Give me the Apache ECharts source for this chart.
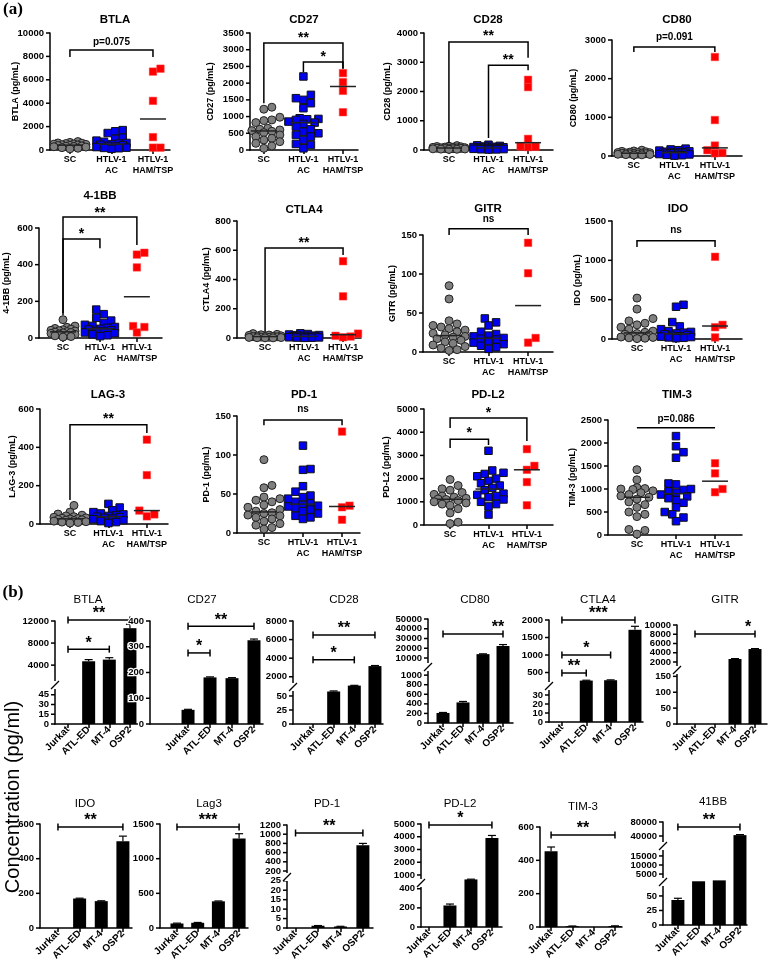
<!DOCTYPE html>
<html><head><meta charset="utf-8">
<script src="https://cdn.jsdelivr.net/npm/echarts@6/dist/echarts.min.js"></script>
<style>html,body{margin:0;padding:0;background:#fff}#c{width:770px;height:972px}</style>
</head><body><div id="c"></div>
<script>
// ---------- Part (a) data ----------
const GROUPS_A = ['SC', 'HTLV-1\nAC', 'HTLV-1\nHAM/TSP'];

const BTLA_SC = [720, 650, 600, 580, 550, 520, 500, 480, 450, 430, 400, 380, 350, 320, 300, 280, 250, 200, 150, 100];
const BTLA_AC = [1700, 1600, 1450, 1050, 950, 800, 700, 600, 550, 500, 450, 400, 350, 300, 250, 200, 180, 150, 100];
const BTLA_HAM = [6950, 6700, 4200, 1100, 200, 200];

const CD27_SC = [1280, 1220, 1000, 980, 900, 880, 820, 650, 620, 600, 580, 560, 520, 450, 400, 380, 350, 300, 250, 200, 120, 50];
const CD27_AC = [2200, 1650, 1550, 1500, 1400, 1250, 950, 930, 920, 900, 850, 820, 780, 700, 620, 550, 500, 450, 400, 300, 180, 150, 50];
const CD27_HAM = [2300, 2030, 1770, 1130];

const CD28_SC = [150, 130, 120, 110, 100, 95, 90, 80, 75, 70, 65, 60, 55, 50, 45, 40, 35, 30, 25, 20];
const CD28_AC = [180, 160, 140, 120, 110, 100, 95, 90, 80, 70, 65, 60, 50, 45, 40, 30, 25, 20, 15];
const CD28_HAM = [2400, 2150, 380, 120, 100, 110];

const CD80_SC = [150, 130, 120, 110, 100, 95, 90, 85, 80, 75, 70, 65, 60, 55, 50, 45, 40, 35, 30, 25];
const CD80_AC = [190, 170, 150, 140, 120, 110, 100, 90, 85, 80, 70, 60, 50, 40, 30, 20, 10];
const CD80_HAM = [2560, 930, 270, 150, 70, 80];

const B41_SC = [100, 65, 58, 52, 48, 45, 42, 40, 38, 35, 32, 30, 28, 25, 22, 20, 15, 12, 8, 5];
const B41_AC = [155, 130, 110, 95, 82, 72, 66, 60, 55, 50, 46, 42, 38, 35, 30, 26, 20, 15, 10];
const B41_HAM = [465, 455, 385, 65, 60, 30];

const CTLA4_SC = [30, 25, 22, 20, 18, 15, 14, 12, 10, 9, 8, 6, 5, 4, 3, 2, 1, 1];
const CTLA4_AC = [32, 27, 24, 20, 18, 16, 14, 12, 10, 8, 6, 5, 4, 3, 2, 1];
const CTLA4_HAM = [525, 285, 30, 15, 10, 5];

const GITR_SC = [85, 68, 40, 36, 34, 32, 30, 28, 26, 24, 22, 20, 19, 17, 15, 13, 11, 9, 7, 5, 3, 2];
const GITR_AC = [43, 38, 34, 26, 23, 21, 20, 18, 17, 16, 14, 12, 10, 8, 6, 4];
const GITR_HAM = [140, 101, 18, 12];

const IDO_SC = [520, 380, 260, 230, 200, 180, 150, 125, 100, 85, 70, 60, 50, 40, 30, 25, 20, 15, 10, 5];
const IDO_AC = [435, 410, 215, 160, 125, 100, 90, 80, 70, 60, 50, 40, 35, 30, 25, 20, 15, 10];
const IDO_HAM = [1045, 180, 150, 20];

const LAG3_SC = [97, 62, 52, 46, 42, 38, 35, 32, 30, 28, 26, 24, 22, 20, 18, 15, 12, 10, 8, 5];
const LAG3_AC = [105, 86, 72, 62, 55, 50, 45, 42, 38, 35, 32, 28, 25, 20, 15, 10, 5];
const LAG3_HAM = [440, 255, 70, 50, 40];

const PD1_SC = [94, 61, 58, 46, 44, 42, 40, 36, 33, 30, 28, 26, 25, 23, 22, 20, 18, 15, 12, 10, 7, 5];
const PD1_AC = [112, 82, 81, 60, 53, 48, 46, 44, 40, 38, 36, 35, 34, 32, 30, 28, 25, 22, 20, 18];
const PD1_HAM = [130, 35, 33, 17];

const PDL2_SC = [1960, 1700, 1560, 1500, 1400, 1320, 1250, 1200, 1150, 1120, 1100, 1050, 1000, 950, 900, 850, 700, 520, 120, 60];
const PDL2_AC = [3200, 2350, 2250, 2200, 2100, 2000, 1900, 1800, 1700, 1600, 1500, 1350, 1300, 1250, 1200, 1100, 1000, 900, 800, 450];
const PDL2_HAM = [3270, 2550, 2380, 1850, 850];

const TIM3_SC = [1420, 1200, 1030, 1010, 1000, 990, 960, 920, 880, 850, 820, 780, 720, 660, 600, 500, 450, 400, 120, 100, 20];
const TIM3_AC = [2150, 1930, 1800, 1680, 1120, 1100, 1000, 980, 950, 920, 880, 840, 800, 760, 700, 600, 500, 450, 380, 300];
const TIM3_HAM = [1560, 1340, 1000, 930];

// brackets (a): [from, to, yTop, yLeftLeg, yRightLeg, label, labelOffsetPx]
const BTLA_BR = [[0, 2, 8550, 7950, 7950, 'p=0.075', 8]];
const CD27_BR = [[0, 2, 3200, 1400, 2420, '**', 8], [1, 2, 2630, 2330, 2450, '*', 8]];
const CD28_BR = [[0, 2, 3690, 240, 3150, '**', 9], [1, 2, 2900, 410, 2730, '**', 8]];
const CD80_BR = [[0, 2, 2820, 2690, 2690, 'p=0.091', 10]];
const B41_BR = [[0, 2, 660, 136, 507, '**', 7], [0, 1, 540, 125, 490, '*', 8]];
const CTLA4_BR = [[0, 2, 615, 40, 568, '**', 8]];
const GITR_BR = [[0, 2, 158, 150, 150, 'ns', 10]];
const IDO_BR = [[0, 2, 1250, 1170, 1170, 'ns', 10]];
const LAG3_BR = [[0, 2, 518, 125, 475, '**', 9]];
const PD1_BR = [[0, 2, 145, 138, 138, 'ns', 11]];
const PDL2_BR = [[0, 2, 4610, 4180, 3620, '*', 8], [0, 1, 3700, 3320, 3450, '*', 9]];
const TIM3_BR = [[0, 2, 2330, 2330, 2330, 'p=0.086', 9]];

// ---------- Part (b) data ----------
const CELL_LINES = ['Jurkat', 'ATL-ED', 'MT-4', 'OSP2'];
const BB_BTLA = [0, 4700, 5000, 10700];    const BB_BTLA_ERR = [0, 300, 350, 700];
const BB_CD27 = [55, 181, 178, 325];       const BB_CD27_ERR = [2, 2, 2, 5];
const BB_CD28 = [0, 58, 1050, 3150];       const BB_CD28_ERR = [0, 1, 30, 60];
const BB_CD80 = [210, 430, 14000, 22300];  const BB_CD80_ERR = [10, 20, 300, 1500];
const BB_CTLA4 = [0, 270, 280, 1720];      const BB_CTLA4_ERR = [0, 10, 10, 100];
const BB_GITR = [0, 0, 2650, 4800];        const BB_GITR_ERR = [0, 0, 80, 100];
const BB_IDO = [0, 170, 155, 500];         const BB_IDO_ERR = [0, 2, 2, 30];
const BB_LAG3 = [65, 75, 385, 1290];       const BB_LAG3_ERR = [5, 5, 5, 70];
const BB_PD1 = [0, 1.2, 0.8, 760];         const BB_PD1_ERR = [0, 0.1, 0.1, 40];
const BB_PDL2 = [0, 225, 650, 3900];       const BB_PDL2_ERR = [0, 15, 20, 200];
const BB_TIM3 = [455, 5, 0, 6];            const BB_TIM3_ERR = [25, 1, 0, 1];
const BB_41BB = [43, 1000, 1500, 42500];   const BB_41BB_ERR = [3, 0, 0, 1500];

// brackets (b): [from, to, y, label, labelX]
const BB_BTLA_BR = [[0, 3, 12180, '**', 1.5], [0, 2, 6900, '*', 1]];
const BB_CD27_BR = [[0, 3, 380, '**', 1.5], [0, 1, 276, '*', 0.5]];
const BB_CD28_BR = [[0, 3, 6500, '**', 1.5], [0, 2, 3820, '*', 1]];
const BB_CD80_BR = [[0, 3, 34600, '**', 2.75]];
const BB_CTLA4_BR = [[0, 3, 2000, '***', 1.5], [0, 2, 1000, '*', 1], [0, 1, 486, '**', 0.5]];
const BB_GITR_BR = [[0, 3, 8050, '*', 2.65]];
const BB_IDO_BR = [[0, 3, 583, '**', 1.5]];
const BB_LAG3_BR = [[0, 3, 1457, '***', 1.5]];
const BB_PD1_BR = [[0, 3, 1026, '**', 1.5]];
const BB_PDL2_BR = [[0, 3, 4920, '*', 1.5]];
const BB_TIM3_BR = [[0, 3, 552, '**', 1.5]];
const BB_41BB_BR = [[0, 3, 65700, '**', 1.5]];

// ---------- layout ----------
const FA = "'Liberation Sans', Arial, Helvetica, sans-serif";
const FS = "'Liberation Serif', 'Times New Roman', serif";
const LS = {color: '#000', width: 1.5};

const PANELS_A = [
  {t: 'BTLA', tx: 115, ty: 20, x0: 50, x1: 170, top: 33, bot: 150, xmin: -0.48, xmax: 2.41, max: 10000, step: 2000, gap: 30, sc: BTLA_SC, ac: BTLA_AC, ham: BTLA_HAM, br: BTLA_BR},
  {t: 'CD27', tx: 304, ty: 20, x0: 250, x1: 358, top: 33, bot: 150, xmin: -0.35, xmax: 2.38, max: 3500, step: 500, gap: 35, sc: CD27_SC, ac: CD27_AC, ham: CD27_HAM, br: CD27_BR},
  {t: 'CD28', tx: 488, ty: 20, x0: 424, x1: 553, top: 33, bot: 150, xmin: -0.63, xmax: 2.63, max: 4000, step: 1000, gap: 32, sc: CD28_SC, ac: CD28_AC, ham: CD28_HAM, br: CD28_BR},
  {t: 'CD80', tx: 677, ty: 20, x0: 612, x1: 742, top: 40, bot: 156, xmin: -0.54, xmax: 2.67, max: 3000, step: 1000, gap: 34, sc: CD80_SC, ac: CD80_AC, ham: CD80_HAM, br: CD80_BR},
  {t: '4-1BB', tx: 100, ty: 196, x0: 39, x1: 162, top: 228, bot: 338, xmin: -0.65, xmax: 2.68, max: 600, step: 200, gap: 28, sc: B41_SC, ac: B41_AC, ham: B41_HAM, br: B41_BR},
  {t: 'CTLA4', tx: 304, ty: 210, x0: 237, x1: 361, top: 221, bot: 338, xmin: -0.72, xmax: 2.46, max: 800, step: 200, gap: 26, sc: CTLA4_SC, ac: CTLA4_AC, ham: CTLA4_HAM, br: CTLA4_BR},
  {t: 'GITR', tx: 488, ty: 209, x0: 423, x1: 553, top: 235, bot: 352, xmin: -0.66, xmax: 2.63, max: 150, step: 50, gap: 26, sc: GITR_SC, ac: GITR_AC, ham: GITR_HAM, br: GITR_BR},
  {t: 'IDO', tx: 678, ty: 209, x0: 612, x1: 742, top: 221, bot: 339, xmin: -0.64, xmax: 2.69, max: 1500, step: 500, gap: 30, sc: IDO_SC, ac: IDO_AC, ham: IDO_HAM, br: IDO_BR},
  {t: 'LAG-3', tx: 108, ty: 395, x0: 40, x1: 168, top: 409, bot: 524, xmin: -0.78, xmax: 2.55, max: 600, step: 200, gap: 23, sc: LAG3_SC, ac: LAG3_AC, ham: LAG3_HAM, br: LAG3_BR},
  {t: 'PD-1', tx: 304, ty: 395, x0: 237, x1: 360, top: 416, bot: 533, xmin: -0.69, xmax: 2.46, max: 150, step: 50, gap: 26, sc: PD1_SC, ac: PD1_AC, ham: PD1_HAM, br: PD1_BR},
  {t: 'PD-L2', tx: 488, ty: 395, x0: 424, x1: 553, top: 409, bot: 525, xmin: -0.68, xmax: 2.68, max: 5000, step: 1000, gap: 33, sc: PDL2_SC, ac: PDL2_AC, ham: PDL2_HAM, br: PDL2_BR},
  {t: 'TIM-3', tx: 677, ty: 395, x0: 608, x1: 742, top: 420, bot: 535, xmin: -0.74, xmax: 2.69, max: 2500, step: 500, gap: 31, sc: TIM3_SC, ac: TIM3_AC, ham: TIM3_HAM, br: TIM3_BR}
];

const PANELS_B = [
  {t: 'BTLA', tx: 88, ty: 600, x0: 55, x1: 138, xmin: -0.63, xmax: 3.39, vals: BB_BTLA, errs: BB_BTLA_ERR, br: BB_BTLA_BR,
   segs: [{min: 400, max: 12000, ticks: [4000, 8000, 12000], top: 621, bot: 685}, {min: 0, max: 60, ticks: [0, 15, 30, 45], top: 685, bot: 724}]},
  {t: 'CD27', tx: 202, ty: 600, x0: 150, x1: 263, xmin: -1.73, xmax: 3.41, vals: BB_CD27, errs: BB_CD27_ERR, br: BB_CD27_BR,
   segs: [{min: 0, max: 400, ticks: [0, 100, 200, 300, 400], top: 621, bot: 724}]},
  {t: 'CD28', tx: 344, ty: 600, x0: 293, x1: 383, xmin: -0.97, xmax: 3.39, vals: BB_CD28, errs: BB_CD28_ERR, br: BB_CD28_BR,
   segs: [{min: 900, max: 8000, ticks: [2000, 4000, 6000, 8000], top: 621, bot: 687}, {min: 0, max: 66, ticks: [0, 25, 50], top: 687, bot: 724}]},
  {t: 'CD80', tx: 475, ty: 600, x0: 428, x1: 513, xmin: -0.75, xmax: 3.5, vals: BB_CD80, errs: BB_CD80_ERR, br: BB_CD80_BR,
   segs: [{min: 800, max: 50000, ticks: [10000, 20000, 30000, 40000, 50000], top: 619, bot: 667}, {min: 0, max: 1170, ticks: [0, 200, 400, 600, 800, 1000], top: 667, bot: 723}]},
  {t: 'CTLA4', tx: 598, ty: 600, x0: 549, x1: 643, xmin: -0.53, xmax: 3.33, vals: BB_CTLA4, errs: BB_CTLA4_ERR, br: BB_CTLA4_BR,
   segs: [{min: 115, max: 2000, ticks: [500, 1000, 1500, 2000], top: 620, bot: 686}, {min: 0, max: 40, ticks: [0, 10, 20, 30], top: 686, bot: 722}]},
  {t: 'GITR', tx: 725, ty: 600, x0: 677, x1: 767, xmin: -0.9, xmax: 3.6, vals: BB_GITR, errs: BB_GITR_ERR, br: BB_GITR_BR,
   segs: [{min: 270, max: 10000, ticks: [2000, 4000, 6000, 8000, 10000], top: 625, bot: 670}, {min: 0, max: 170, ticks: [0, 50, 100, 150], top: 670, bot: 724}]},
  {t: 'IDO', tx: 85, ty: 804, x0: 40, x1: 132, xmin: -0.83, xmax: 3.42, vals: BB_IDO, errs: BB_IDO_ERR, br: BB_IDO_BR,
   segs: [{min: 0, max: 600, ticks: [0, 200, 400, 600], top: 824, bot: 928}]},
  {t: 'Lag3', tx: 209, ty: 804, x0: 160, x1: 248, xmin: -0.82, xmax: 3.43, vals: BB_LAG3, errs: BB_LAG3_ERR, br: BB_LAG3_BR,
   segs: [{min: 0, max: 1500, ticks: [0, 500, 1000, 1500], top: 824, bot: 928}]},
  {t: 'PD-1', tx: 327, ty: 804, x0: 287, x1: 373, xmin: -0.38, xmax: 3.45, vals: BB_PD1, errs: BB_PD1_ERR, br: BB_PD1_BR,
   segs: [{min: 70, max: 1200, ticks: [200, 400, 600, 800, 1000, 1200], top: 825, bot: 877}, {min: 0, max: 27, ticks: [0, 5, 10, 15, 20, 25], top: 877, bot: 928}]},
  {t: 'PD-L2', tx: 460, ty: 804, x0: 421, x1: 502, xmin: -0.38, xmax: 3.48, vals: BB_PDL2, errs: BB_PDL2_ERR, br: BB_PDL2_BR,
   segs: [{min: 370, max: 5000, ticks: [1000, 2000, 3000, 4000, 5000], top: 824, bot: 883}, {min: 0, max: 460, ticks: [0, 200, 400], top: 883, bot: 927}]},
  {t: 'TIM-3', tx: 583, ty: 807, x0: 540, x1: 622, xmin: -0.52, xmax: 3.33, vals: BB_TIM3, errs: BB_TIM3_ERR, br: BB_TIM3_BR,
   segs: [{min: 0, max: 600, ticks: [0, 200, 400, 600], top: 827, bot: 927}]},
  {t: '41BB', tx: 713, ty: 802, x0: 663, x1: 747, xmin: -0.72, xmax: 3.34, vals: BB_41BB, errs: BB_41BB_ERR, br: BB_41BB_BR,
   segs: [{min: 11400, max: 80000, ticks: [40000, 80000], top: 822, bot: 846}, {min: 600, max: 20500, ticks: [5000, 10000, 15000], top: 846, bot: 882}, {min: 0, max: 74, ticks: [0, 25, 50], top: 882, bot: 925}]}
];

const grids = [], xAxes = [], yAxes = [], series = [], graphics = [];

function txt(x, y, text, opts) {
  const o = Object.assign({align: 'center', va: 'middle', rot: 0, weight: 'bold', size: 11, family: FA}, opts || {});
  graphics.push({type: 'text', x: x, y: y, rotation: o.rot, z: 50, silent: true,
    style: {text: text, fill: '#000', fontFamily: o.family, fontSize: o.size, fontWeight: o.weight,
      textAlign: o.align, align: o.align, textVerticalAlign: o.va, verticalAlign: o.va}});
}

function median(a) {
  const s = a.slice().sort((p, q) => p - q); const n = s.length;
  return n % 2 ? s[(n - 1) / 2] : (s[n / 2 - 1] + s[n / 2]) / 2;
}

// y-axis ticks + tick labels placed through the axis scale (api.coord)
function yTicks(gi, xmin, ticks, fontSize, halo) {
  series.push({type: 'custom', xAxisIndex: gi, yAxisIndex: gi, z: 20, silent: true, clip: false,
    data: ticks.map(t => [xmin, t]),
    renderItem: (params, api) => {
      const v = api.value(1); const c = api.coord([api.value(0), v]);
      const st = {text: String(v), fill: '#000', fontFamily: FA, fontWeight: 'bold', fontSize: fontSize,
        textAlign: 'right', align: 'right', textVerticalAlign: 'middle', verticalAlign: 'middle'};
      if (halo) { st.stroke = '#fff'; st.lineWidth = 2.5; }
      return {type: 'group', children: [
        {type: 'line', shape: {x1: c[0] - 4, y1: c[1], x2: c[0], y2: c[1]}, style: {stroke: '#000', lineWidth: 1.5}},
        {type: 'text', x: c[0] - 6, y: c[1], style: st}
      ]};
    }});
}

// deterministic beeswarm: spread points sideways so markers overlap as little as possible
function swarm(vals, pxPerUnit, bandPx, size) {
  const placed = []; const out = new Array(vals.length);
  const order = vals.map((v, i) => i).sort((a, b) => vals[a] - vals[b]);
  const step = size * 0.5; const maxK = Math.floor(bandPx * 0.42 / step) * 2;
  order.forEach(i => {
    const py = vals[i] * pxPerUnit; let best = 0, bestD = -1;
    for (let k = 0; k <= maxK; k++) {
      const off = (k % 2 ? 1 : -1) * Math.ceil(k / 2) * step;
      let dmin = Infinity;
      placed.forEach(q => { const d = Math.hypot(q[0] - off, q[1] - py); if (d < dmin) dmin = d; });
      if (dmin >= size * 0.95) { best = off; break; }
      if (dmin > bestD) { bestD = dmin; best = off; }
    }
    placed.push([best, py]); out[i] = best / bandPx;
  });
  return out;
}

function panelA(p) {
  const gi = grids.length;
  grids.push({left: p.x0, top: p.top, width: p.x1 - p.x0, height: p.bot - p.top, containLabel: false, outerBoundsMode: 'none'});
  xAxes.push({gridIndex: gi, type: 'value', min: p.xmin, max: p.xmax,
    axisLine: {show: true, onZero: false, lineStyle: LS},
    axisTick: {show: true, customValues: [0, 1, 2], length: 4, lineStyle: LS},
    axisLabel: {customValues: [0, 1, 2], formatter: v => GROUPS_A[Math.round(v)], fontFamily: FA, fontWeight: 'bold', fontSize: 9, lineHeight: 11, color: '#000', margin: 4, hideOverlap: false},
    splitLine: {show: false}});
  yAxes.push({gridIndex: gi, type: 'value', min: 0, max: p.max, interval: p.step,
    name: p.t + ' (pg/mL)', nameLocation: 'middle', nameGap: p.gap, nameRotate: 90, nameMoveOverlap: false,
    nameTextStyle: {fontFamily: FA, fontWeight: 'bold', fontSize: 9, color: '#000'},
    axisLine: {show: true, onZero: false, lineStyle: LS},
    axisTick: {show: false}, axisLabel: {show: false}, splitLine: {show: false}});
  const ticks = [];
  for (let v = 0; v <= p.max; v += p.step) ticks.push(v);
  yTicks(gi, p.xmin, ticks, 9.5, false);
  const unitPx = (p.x1 - p.x0) / (p.xmax - p.xmin);
  const pxY = (p.bot - p.top) / p.max;
  const groups = [
    {v: p.sc, sym: 'circle', size: 8, col: '#7f7f7f', bc: '#222', bw: 1},
    {v: p.ac, sym: 'rect', size: 7.5, col: '#0000f0', bc: '#111', bw: 1},
    {v: p.ham, sym: 'rect', size: 7.5, col: '#ff0000', bc: '#ff4040', bw: 0.5}
  ];
  groups.forEach((g, gi2) => {
    const off = swarm(g.v, pxY, unitPx, g.size);
    series.push({type: 'scatter', xAxisIndex: gi, yAxisIndex: gi, symbol: g.sym, symbolSize: g.size, silent: true, z: 3,
      itemStyle: {color: g.col, borderColor: g.bc, borderWidth: g.bw, opacity: 1},
      data: g.v.map((v, i) => [gi2 + off[i], v])});
  });
  const meds = [median(p.sc), median(p.ac), median(p.ham)];
  series.push({type: 'custom', xAxisIndex: gi, yAxisIndex: gi, z: 5, silent: true,
    data: meds.map((m, i) => [i, m]),
    renderItem: (params, api) => {
      const c = api.coord([api.value(0), api.value(1)]);
      return {type: 'line', shape: {x1: c[0] - 13, y1: c[1], x2: c[0] + 13, y2: c[1]}, style: {stroke: '#222', lineWidth: 1.5}};
    }});
  const br = p.br;
  series.push({type: 'custom', xAxisIndex: gi, yAxisIndex: gi, z: 6, silent: true,
    data: br.map(b => [b[0], b[2]]),
    renderItem: (params, api) => {
      const b = br[params.dataIndex];
      const a = api.coord([b[0], b[3]]), tl = api.coord([b[0], b[2]]), tr = api.coord([b[1], b[2]]), r = api.coord([b[1], b[4]]);
      const star = b[5].indexOf('*') >= 0;
      const fs = star ? 14 : 10;
      const ly = tl[1] - b[6] + (star ? 3 : 0);
      return {type: 'group', children: [
        {type: 'polyline', shape: {points: [a, tl, tr, r]}, style: {stroke: '#000', lineWidth: 1.5, fill: null}},
        {type: 'text', x: (tl[0] + tr[0]) / 2, y: ly, style: {text: b[5], fill: '#000', fontFamily: FA, fontWeight: 'bold', fontSize: fs, textAlign: 'center', align: 'center', textVerticalAlign: 'middle', verticalAlign: 'middle'}}
      ]};
    }});
  txt(p.tx, p.ty, p.t, {size: 11.5});
}

function panelB(p) {
  const n = p.segs.length; const segGi = [];
  p.segs.forEach((s, si) => {
    const gi = grids.length; segGi.push(gi);
    grids.push({left: p.x0, top: s.top, width: p.x1 - p.x0, height: s.bot - s.top, containLabel: false, outerBoundsMode: 'none'});
    const isBottom = si === n - 1;
    xAxes.push({gridIndex: gi, type: 'value', min: p.xmin, max: p.xmax, show: isBottom,
      axisLine: {show: true, onZero: false, lineStyle: LS},
      axisTick: {show: true, customValues: [0, 1, 2, 3], length: 4, lineStyle: LS},
      axisLabel: {customValues: [0, 1, 2, 3], formatter: v => CELL_LINES[Math.round(v)], rotate: 45, fontFamily: FA, fontWeight: 'bold', fontSize: 10, color: '#000', margin: 4, hideOverlap: false},
      splitLine: {show: false}});
    yAxes.push({gridIndex: gi, type: 'value', min: s.min, max: s.max,
      axisLine: {show: true, onZero: false, lineStyle: LS},
      axisTick: {show: false}, axisLabel: {show: false}, splitLine: {show: false}});
    yTicks(gi, p.xmin, s.ticks, 9.5, true);
    series.push({type: 'bar', xAxisIndex: gi, yAxisIndex: gi, barWidth: 13, clip: true, silent: true,
      itemStyle: {color: '#000'}, data: p.vals.map((v, i) => [i, v])});
    const eb = [];
    p.vals.forEach((v, i) => { if (p.errs[i] > 0 && v >= s.min && v <= s.max) eb.push([i, v, p.errs[i]]); });
    if (eb.length) series.push({type: 'custom', xAxisIndex: gi, yAxisIndex: gi, z: 4, silent: true, data: eb,
      renderItem: (params, api) => {
        const x = api.value(0), v = api.value(1), e = api.value(2);
        const a = api.coord([x, v]), b = api.coord([x, Math.min(v + e, s.max)]);
        return {type: 'group', children: [
          {type: 'line', shape: {x1: a[0], y1: a[1], x2: b[0], y2: b[1]}, style: {stroke: '#000', lineWidth: 1.2}},
          {type: 'line', shape: {x1: b[0] - 4, y1: b[1], x2: b[0] + 4, y2: b[1]}, style: {stroke: '#000', lineWidth: 1.2}}
        ]};
      }});
  });
  // brackets: put each in the segment holding its height (top segment if above)
  p.br.forEach(b => {
    let si = 0;
    for (let k = 0; k < n; k++) { if (b[2] >= p.segs[k].min && b[2] <= p.segs[k].max) { si = k; break; } }
    const gi = segGi[si];
    series.push({type: 'custom', xAxisIndex: gi, yAxisIndex: gi, z: 6, silent: true, data: [[b[0], b[2]]],
      renderItem: (params, api) => {
        const a = api.coord([b[0], b[2]]), c = api.coord([b[1], b[2]]), lx = api.coord([b[4], b[2]])[0];
        return {type: 'group', children: [
          {type: 'line', shape: {x1: a[0], y1: a[1], x2: c[0], y2: c[1]}, style: {stroke: '#000', lineWidth: 1.5}},
          {type: 'line', shape: {x1: a[0], y1: a[1] - 3.5, x2: a[0], y2: a[1] + 3.5}, style: {stroke: '#000', lineWidth: 1.5}},
          {type: 'line', shape: {x1: c[0], y1: c[1] - 3.5, x2: c[0], y2: c[1] + 3.5}, style: {stroke: '#000', lineWidth: 1.5}},
          {type: 'text', x: lx, y: a[1] - 6, style: {text: b[3], fill: '#000', fontFamily: FA, fontWeight: 'bold', fontSize: 16, textAlign: 'center', align: 'center', textVerticalAlign: 'middle', verticalAlign: 'middle'}}
        ]};
      }});
  });
  // axis break marks
  for (let k = 0; k < n - 1; k++) {
    const J = p.segs[k].bot;
    graphics.push({type: 'rect', z: 100, silent: true, shape: {x: p.x0 - 2.5, y: J - 4, width: 5, height: 8}, style: {fill: '#fff'}});
    graphics.push({type: 'line', z: 101, silent: true, shape: {x1: p.x0 - 4, y1: J + 4, x2: p.x0 + 4, y2: J - 4}, style: {stroke: '#000', lineWidth: 1.3}});
  }
  txt(p.tx, p.ty, p.t, {size: 11.5, weight: 'normal'});
}

PANELS_A.forEach(panelA);
PANELS_B.forEach(panelB);
txt(13, 10, '(a)', {size: 17, family: FS});
txt(13, 593, '(b)', {size: 17, family: FS});
txt(13, 797, 'Concentration (pg/ml)', {size: 20, weight: 'normal', rot: Math.PI / 2});

const chart = echarts.init(document.getElementById('c'), null, {renderer: 'canvas', width: 770, height: 972});
chart.setOption({
  animation: false,
  backgroundColor: '#fff',
  grid: grids, xAxis: xAxes, yAxis: yAxes, series: series,
  graphic: {elements: graphics}
});
</script>
</body></html>
